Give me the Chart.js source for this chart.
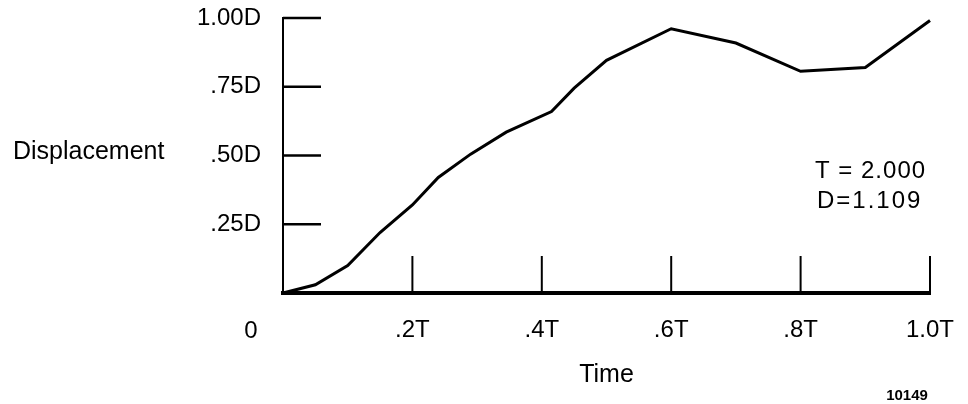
<!DOCTYPE html>
<html>
<head>
<meta charset="utf-8">
<script src="https://cdn.jsdelivr.net/npm/chart.js@4"></script>
<style>
  html, body { margin: 0; padding: 0; background: #fff; }
  #wrap { width: 968px; height: 404px; position: relative; }
</style>
</head>
<body>
<div id="wrap"><canvas id="c" width="968" height="404"></canvas></div>
<script>
// ---- data ----
const timeValues = [0, 0.05, 0.10, 0.15, 0.20, 0.24, 0.29, 0.345, 0.415, 0.45, 0.50, 0.60, 0.70, 0.80, 0.90, 1.00];
const dispValues = [0, 0.03, 0.10, 0.22, 0.32, 0.42, 0.505, 0.585, 0.66, 0.745, 0.846, 0.961, 0.909, 0.806, 0.82, 0.991];
const xTickValues = [0.2, 0.4, 0.6, 0.8, 1.0];
const xTickLabels = ['.2T', '.4T', '.6T', '.8T', '1.0T'];
const yTickValues = [0.25, 0.5, 0.75, 1.0];
const yTickLabels = ['.25D', '.50D', '.75D', '1.00D'];
const xOriginLabel = '0';
const xTitle = 'Time';
const yTitle = 'Displacement';
const noteLines = ['T = 2.000', 'D=1.109'];
const figureId = '10149';

const FONT = "'Liberation Sans', Arial, Helvetica, sans-serif";

const points = timeValues.map((t, i) => ({ x: t, y: dispValues[i] }));

const innerTicks = {
  id: 'innerTicks',
  afterDatasetsDraw(chart) {
    const { ctx, scales: { x, y } } = chart;
    const x0 = x.getPixelForValue(0);
    const y0 = y.getPixelForValue(0);
    ctx.save();
    ctx.strokeStyle = '#000';
    ctx.lineCap = 'butt';
    ctx.lineWidth = 2.5;
    yTickValues.forEach(v => {
      const py = y.getPixelForValue(v);
      ctx.beginPath();
      ctx.moveTo(x0, py);
      ctx.lineTo(x0 + 38, py);
      ctx.stroke();
    });
    ctx.lineWidth = 2;
    xTickValues.forEach(v => {
      const px = x.getPixelForValue(v);
      ctx.beginPath();
      ctx.moveTo(px, y0);
      ctx.lineTo(px, y0 - 37);
      ctx.stroke();
    });
    // texts
    ctx.fillStyle = '#000';
    ctx.textBaseline = 'alphabetic';
    ctx.font = '25px ' + FONT;
    ctx.textAlign = 'left';
    ctx.fillText(yTitle, 13, y.getPixelForValue(0.5) + 3);
    ctx.font = '24px ' + FONT;
    ctx.textAlign = 'center';
    ctx.fillText(xOriginLabel, x0 - 32, y0 + 45);
    ctx.textAlign = 'left';
    const ca = chart.chartArea;
    ctx.letterSpacing = '1px';
    ctx.fillText(noteLines[0], ca.right - 115, y.getPixelForValue(0.42));
    ctx.letterSpacing = '2px';
    ctx.fillText(noteLines[1], ca.right - 113, y.getPixelForValue(0.31));
    ctx.letterSpacing = '0px';
    ctx.font = 'bold 15px ' + FONT;
    ctx.textAlign = 'center';
    ctx.fillText(figureId, ca.right - 23, 400);
    ctx.restore();
  }
};

new Chart(document.getElementById('c'), {
  type: 'line',
  data: {
    datasets: [{
      data: points,
      borderColor: '#000',
      borderWidth: 3,
      pointRadius: 0,
      tension: 0,
      fill: false,
      clip: false
    }]
  },
  options: {
    responsive: false,
    animation: false,
    events: [],
    layout: { padding: { top: 18, right: 38, bottom: 0, left: 0 } },
    plugins: { legend: { display: false }, tooltip: { enabled: false } },
    scales: {
      x: {
        type: 'linear',
        min: 0, max: 1,
        afterBuildTicks(s) { s.ticks = xTickValues.map(v => ({ value: v })); },
        afterFit(s) { s.height = 111; },
        ticks: {
          color: '#000',
          font: { family: FONT, size: 24 },
          padding: 0,
          maxRotation: 0,
          autoSkip: false,
          callback(v) { const i = xTickValues.indexOf(v); return i >= 0 ? xTickLabels[i] : ''; }
        },
        grid: { display: true, drawOnChartArea: false, drawTicks: true, tickLength: 23, tickColor: 'rgba(0,0,0,0)' },
        border: { display: true, color: '#000', width: 4 },
        title: {
          display: true, text: xTitle, color: '#000',
          font: { family: FONT, size: 25 },
          padding: { top: 0, bottom: 14 }
        }
      },
      y: {
        type: 'linear',
        min: 0, max: 1,
        afterBuildTicks(s) { s.ticks = yTickValues.map(v => ({ value: v })); },
        afterFit(s) { s.width = 283; },
        ticks: {
          color: '#000',
          font: { family: FONT, size: 24 },
          padding: 0,
          autoSkip: false,
          callback(v) { const i = yTickValues.indexOf(v); return i >= 0 ? yTickLabels[i] : ''; }
        },
        grid: { display: true, drawOnChartArea: false, drawTicks: true, tickLength: 22, tickColor: 'rgba(0,0,0,0)' },
        border: { display: true, color: '#000', width: 2 }
      }
    }
  },
  plugins: [innerTicks]
});
</script>
</body>
</html>
